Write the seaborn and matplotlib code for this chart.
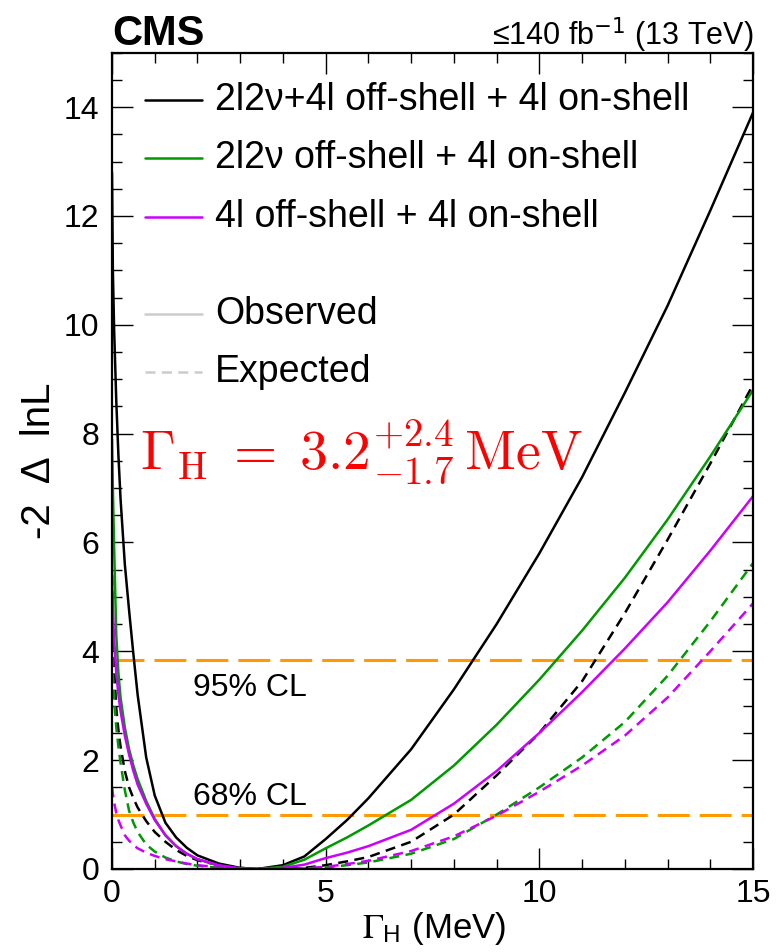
import matplotlib
matplotlib.use("Agg")
import matplotlib.pyplot as plt
from matplotlib.lines import Line2D
import seaborn as sns

# Width scan points (MeV)
gamma = [0, 0.02, 0.05, 0.1, 0.15, 0.2, 0.3, 0.4, 0.5, 0.6, 0.8, 1.0, 1.25, 1.5,
         1.75, 2.0, 2.5, 3.0, 3.4, 4.0, 4.5, 5.0, 5.5, 6.0, 7.0, 8.0, 9.0, 10.0,
         11.0, 12.0, 13.0, 14.0, 15.0]

# -2 Delta lnL, observed
obs_comb = [12.8, 11.0, 9.9, 8.6, 7.6, 6.8, 5.6, 4.75, 3.95, 3.2, 2.05, 1.35,
            0.85, 0.58, 0.39, 0.25, 0.1, 0.02, 0.0, 0.07, 0.23, 0.55, 0.9, 1.3,
            2.2, 3.3, 4.5, 5.8, 7.2, 8.75, 10.35, 12.1, 13.9]
obs_2l2nu = [7.9, 7.0, 5.9, 4.3, 3.6, 3.15, 2.6, 2.2, 1.9, 1.65, 1.25, 0.92,
             0.62, 0.42, 0.28, 0.18, 0.06, 0.01, 0.0, 0.04, 0.17, 0.38, 0.58,
             0.8, 1.27, 1.9, 2.65, 3.48, 4.38, 5.35, 6.42, 7.58, 8.8]
obs_4l = [5.4, 4.8, 4.2, 3.6, 3.2, 2.9, 2.45, 2.1, 1.8, 1.55, 1.2, 0.9, 0.62,
          0.42, 0.28, 0.18, 0.07, 0.01, 0.0, 0.02, 0.08, 0.2, 0.3, 0.42, 0.72,
          1.2, 1.8, 2.5, 3.25, 4.05, 4.9, 5.85, 6.85]

# -2 Delta lnL, expected
exp_comb = [5.4, 4.3, 3.7, 2.95, 2.55, 2.25, 1.8, 1.5, 1.3, 1.13, 0.88, 0.68,
            0.5, 0.35, 0.24, 0.16, 0.07, 0.02, 0.0, 0.0, 0.02, 0.07, 0.14, 0.22,
            0.5, 1.0, 1.72, 2.5, 3.45, 4.7, 6.05, 7.45, 8.9]
exp_2l2nu = [4.2, 3.6, 3.1, 2.6, 2.25, 1.95, 1.45, 1.07, 0.85, 0.68, 0.45, 0.32,
             0.21, 0.14, 0.09, 0.06, 0.02, 0.0, 0.0, 0.0, 0.01, 0.03, 0.07,
             0.12, 0.28, 0.55, 1.0, 1.5, 2.05, 2.7, 3.55, 4.55, 5.62]
exp_4l = [1.5, 1.38, 1.22, 1.03, 0.9, 0.8, 0.62, 0.52, 0.44, 0.38, 0.3, 0.24,
          0.18, 0.14, 0.1, 0.07, 0.03, 0.0, 0.0, 0.0, 0.01, 0.04, 0.09, 0.15,
          0.33, 0.6, 0.98, 1.42, 1.9, 2.45, 3.15, 4.0, 4.88]

channel_labels = ["2l2\u03bd+4l off-shell + 4l on-shell",
                  "2l2\u03bd off-shell + 4l on-shell",
                  "4l off-shell + 4l on-shell"]
channel_colors = ["#000000", "#009900", "#cc00ff"]

cl_levels = [3.84, 1.0]
cl_labels = ["95% CL", "68% CL"]

sns.set_theme(style="ticks")
plt.rcParams["font.family"] = ["Liberation Sans", "DejaVu Sans"]
plt.rcParams["lines.scale_dashes"] = False
for key in ["text.color", "axes.labelcolor", "xtick.color", "ytick.color",
            "axes.edgecolor"]:
    plt.rcParams[key] = "black"

fig = plt.figure(figsize=(7.8, 9.52), dpi=100)
ax = fig.add_axes([0.1436, 0.0872, 0.8218, 0.8574])

LW = 1.8
EXP_DASH = (0, (7.2, 4.6))

obs_sets = [obs_comb, obs_2l2nu, obs_4l]
exp_sets = [exp_comb, exp_2l2nu, exp_4l]

# expected first so observed sits on top
for vals, col in zip(exp_sets, channel_colors):
    sns.lineplot(x=gamma, y=vals, color=col, linewidth=LW, linestyle=EXP_DASH,
                 ax=ax, legend=False, estimator=None, sort=False)
for vals, col in zip(obs_sets, channel_colors):
    sns.lineplot(x=gamma, y=vals, color=col, linewidth=LW, linestyle="-",
                 ax=ax, legend=False, estimator=None, sort=False)

# confidence-level thresholds
for lvl in cl_levels:
    ax.axhline(lvl, color="#ff9a00", linewidth=2.2, linestyle=(0, (23, 7.2)),
               zorder=1)
ax.text(1.9, 3.84 - 0.52, cl_labels[0], fontsize=23, ha="left", va="center")
ax.text(1.9, 1.0 + 0.33, cl_labels[1], fontsize=23, ha="left", va="center")

ax.set_xlim(0, 15)
ax.set_ylim(0, 15)
ax.set_xticks([0, 5, 10, 15])
ax.set_xticks(range(0, 16), minor=True)
ax.set_yticks(range(0, 15, 2))
ax.set_yticks([i * 0.5 for i in range(0, 31)], minor=True)
ax.tick_params(which="both", direction="in", top=True, right=True,
               color="black", width=1.0)
ax.tick_params(which="major", length=15, labelsize=23)
ax.tick_params(which="minor", length=7.5)
ax.tick_params(axis="y", which="major", pad=9)
ax.tick_params(axis="x", which="major", pad=7)
for sp in ax.spines.values():
    sp.set_linewidth(1.6)
    sp.set_color("black")

ax.set_ylabel("-2  \u0394  lnL", fontsize=29)
ax.yaxis.set_label_coords(-0.084, 0.50)
ax.set_xlabel(r"$\Gamma_{\mathregular{H}}$ (MeV)", fontsize=25,
              math_fontfamily="stix")
ax.xaxis.set_label_coords(0.502, -0.05)

# legend keys drawn in axes coordinates
rows_y = [0.9417, 0.8707, 0.7991]
for y, col, lab in zip(rows_y, channel_colors, channel_labels):
    ax.add_line(Line2D([0.0515, 0.1404], [y, y], transform=ax.transAxes,
                       color=col, linewidth=LW))
    ax.text(0.1607, y, lab, transform=ax.transAxes, fontsize=27,
            ha="left", va="center")
ax.add_line(Line2D([0.0515, 0.1404], [0.6801, 0.6801], transform=ax.transAxes,
                   color="#cccccc", linewidth=LW))
ax.text(0.1607, 0.6801, "Observed", transform=ax.transAxes, fontsize=27,
        ha="left", va="center")
ax.add_line(Line2D([0.0515, 0.1404], [0.6094, 0.6094], transform=ax.transAxes,
                   color="#cccccc", linewidth=LW, linestyle=EXP_DASH))
ax.text(0.1607, 0.6094, "Expected", transform=ax.transAxes, fontsize=27,
        ha="left", va="center")

# measured width
ax.text(0.66, 7.33, r"$\Gamma_{\rm H}\;=\;3.2^{+2.4}_{-1.7}\,{\rm MeV}$",
        color="#ff0000", fontsize=40, math_fontfamily="cm", ha="left",
        va="baseline")

fig.text(0.1436, 0.9525, "CMS", fontsize=30, fontweight="bold",
         ha="left", va="baseline")
fig.text(0.9654, 0.9525, "\u2264140 fb$^{-1}$ (13 TeV)", fontsize=22,
         ha="right", va="baseline")

fig.savefig("out.png", dpi=100)
